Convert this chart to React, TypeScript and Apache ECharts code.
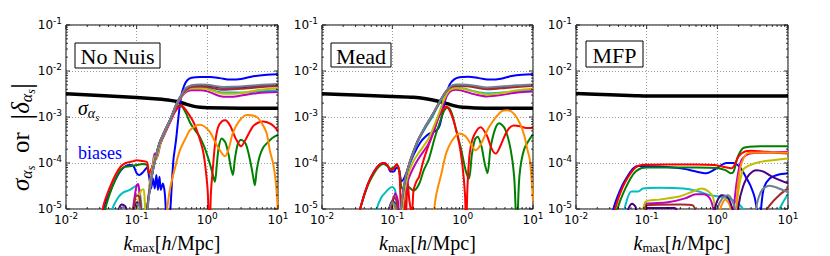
import React, { useEffect, useRef } from "react";
import * as echarts from "echarts";

type P = [number, number][];

// ---------- Panel 1: No Nuis ----------
const NN_SIGMA: P = [[0.01,3.2e-3],[0.03,2.95e-3],[0.1,2.65e-3],[0.2,2.45e-3],[0.3,2.3e-3],[0.4,2.12e-3],[0.5,1.9e-3],[0.65,1.7e-3],[0.8,1.62e-3],[1,1.58e-3],[3,1.55e-3],[10,1.55e-3]];
const NN_BLUE: P = [[0.031,6e-6],[0.035,1.2e-5],[0.04,2e-5],[0.05,4.3e-5],[0.06,7e-5],[0.07,8.6e-5],[0.08,9e-5],[0.09,8.6e-5],[0.1,6e-5],[0.11,5.5e-5],[0.125,6.5e-5],[0.14,8e-5],[0.15,5e-5],[0.16,2.8e-5],[0.17,4.6e-5],[0.18,2.8e-5],[0.19,5.5e-5],[0.2,2.6e-5],[0.21,5e-5],[0.22,2.6e-5],[0.235,3.6e-5],[0.25,2.2e-5],[0.265,6e-6],[0.285,4e-6],[0.3,1e-5],[0.33,1.1e-4],[0.36,3.1e-4],[0.4,1.4e-3],[0.43,3e-3],[0.47,4.8e-3],[0.52,6.3e-3],[0.6,7.1e-3],[0.8,7.4e-3],[1.1,7.4e-3],[1.5,7e-3],[2.1,6.5e-3],[3,6.7e-3],[4.5,7.7e-3],[7,8.3e-3],[10,8.5e-3]];
const NN_GREEN: P = [[0.033,5e-6],[0.037,1.2e-5],[0.045,3e-5],[0.055,6e-5],[0.065,8e-5],[0.08,8.5e-5],[0.1,9e-5],[0.12,9.5e-5],[0.14,9e-5],[0.15,6e-5],[0.17,9e-5],[0.2,2e-4],[0.25,4.5e-4],[0.3,8.5e-4],[0.35,1.4e-3],[0.41,1.8e-3],[0.45,1.6e-3],[0.5,1.2e-3],[0.57,7.5e-4],[0.68,5e-4],[0.78,3.7e-4],[0.9,2.3e-4],[0.98,1.6e-4],[1.1,9e-5],[1.2,5.5e-5],[1.28,3.9e-5],[1.36,9e-5],[1.45,2.2e-4],[1.6,3.4e-4],[1.8,2.8e-4],[2.0,1.5e-4],[2.15,8e-5],[2.3,5.5e-5],[2.45,1.2e-4],[2.7,2.6e-4],[3,3.2e-4],[3.5,2.6e-4],[4.1,1e-4],[4.45,5e-5],[4.7,3.3e-5],[5.0,7e-5],[5.5,1.4e-4],[6.2,2.2e-4],[7,2.7e-4],[8.3,3.5e-4],[10,4.1e-4]];
const NN_RED: P = [[0.031,5e-6],[0.034,1.2e-5],[0.04,2.5e-5],[0.05,5.5e-5],[0.06,8.5e-5],[0.07,1e-4],[0.08,1.05e-4],[0.09,1.1e-4],[0.1,1.15e-4],[0.12,1.1e-4],[0.14,1.05e-4],[0.15,6e-5],[0.17,9e-5],[0.2,2e-4],[0.25,4.5e-4],[0.3,8e-4],[0.35,1.3e-3],[0.42,1.8e-3],[0.5,1.4e-3],[0.63,8e-4],[0.75,4e-4],[0.87,1.8e-4],[0.95,7e-5],[1.02,2e-5],[1.07,1e-6],[1.12,2e-5],[1.2,8e-5],[1.3,3e-4],[1.42,6e-4],[1.6,8e-4],[1.8,8.5e-4],[2.1,6.5e-4],[2.5,3.5e-4],[3.0,2.3e-4],[3.5,3.3e-4],[4.4,6.2e-4],[5.2,7.5e-4],[6.2,8e-4],[8,7e-4],[10,5e-4]];
const NN_ORANGE: P = [[0.25,3e-6],[0.27,1e-5],[0.3,3e-5],[0.35,8e-5],[0.41,1.9e-4],[0.5,3.6e-4],[0.57,5.2e-4],[0.78,6.8e-4],[0.9,6.3e-4],[1.08,4.8e-4],[1.3,2.8e-4],[1.5,1.9e-4],[1.78,1.4e-4],[2.0,2e-4],[2.3,4.5e-4],[2.8,8e-4],[3.6,1.1e-3],[5,1e-3],[6,7e-4],[6.9,4.5e-4],[7.7,1.8e-4],[8.5,1e-4],[9.3,4e-5],[10,8e-6]];
const NN_CYAN: P = [[0.04,5e-6],[0.045,1e-5],[0.055,1.8e-5],[0.065,2.3e-5],[0.08,2.6e-5],[0.095,3.1e-5],[0.105,3.2e-5],[0.115,1.5e-5],[0.122,5e-6],[0.135,6e-6],[0.145,1.5e-5],[0.16,4e-5],[0.17,7e-5],[0.19,1.5e-4],[0.21,2.7e-4],[0.25,5e-4],[0.3,9e-4],[0.37,1.9e-3],[0.45,3.2e-3],[0.52,4e-3],[0.6,4.3e-3],[0.8,4.3e-3],[1,4.1e-3],[1.7,3.4e-3],[3,3.4e-3],[5,3.6e-3],[10,3.8e-3]];
const NN_MAGENTA: P = [[0.085,5e-6],[0.09,1.2e-5],[0.1,3.3e-5],[0.105,3.5e-5],[0.11,2e-5],[0.12,6e-6],[0.135,5e-6],[0.145,1.5e-5],[0.155,4e-5],[0.17,1e-4],[0.18,1.6e-4],[0.19,1.3e-4],[0.2,1.5e-4],[0.22,2.8e-4],[0.25,4.3e-4],[0.3,8e-4],[0.37,1.8e-3],[0.45,3e-3],[0.52,3.6e-3],[0.6,3.8e-3],[0.8,3.8e-3],[1,3.6e-3],[1.7,2.75e-3],[2.5,2.8e-3],[5,3.3e-3],[10,3.5e-3]];
const NN_YELLOW: P = [[0.095,5e-6],[0.105,1.5e-5],[0.115,2.5e-5],[0.125,2.7e-5],[0.13,1.5e-5],[0.135,8e-6],[0.145,1.5e-5],[0.155,4e-5],[0.17,9e-5],[0.18,1.4e-4],[0.19,1.2e-4],[0.2,1.6e-4],[0.22,2.9e-4],[0.25,4.6e-4],[0.3,8.5e-4],[0.37,1.9e-3],[0.45,3.1e-3],[0.52,3.9e-3],[0.6,4.2e-3],[0.8,4.2e-3],[1,4e-3],[1.7,3.2e-3],[2.5,3.2e-3],[5,3.8e-3],[10,4.2e-3]];
const NN_PURPLE: P = [[0.05,4e-6],[0.056,1e-5],[0.062,1.25e-5],[0.07,1.1e-5],[0.078,4e-6],[0.09,8e-6],[0.1,1.4e-5],[0.11,1.2e-5],[0.12,5e-6],[0.135,6e-6],[0.145,1.5e-5],[0.16,4e-5],[0.17,7e-5],[0.19,1.5e-4],[0.21,2.7e-4],[0.25,5e-4],[0.3,9e-4],[0.37,2e-3],[0.45,3.3e-3],[0.52,4.2e-3],[0.6,4.8e-3],[0.8,4.9e-3],[1,4.8e-3],[1.7,4.3e-3],[3,4.4e-3],[6,4.8e-3],[10,5e-3]];
const NN_BROWN: P = [[0.08,5e-6],[0.09,1e-5],[0.1,2e-5],[0.11,1.8e-5],[0.12,6e-6],[0.135,6e-6],[0.145,1.5e-5],[0.16,4e-5],[0.17,7e-5],[0.19,1.5e-4],[0.21,2.7e-4],[0.25,5e-4],[0.3,9e-4],[0.37,2e-3],[0.45,3.3e-3],[0.52,4.1e-3],[0.6,4.5e-3],[0.8,4.6e-3],[1,4.5e-3],[1.7,3.9e-3],[3,4.1e-3],[6,4.5e-3],[10,4.7e-3]];
const NN_GRAY: P = [[0.05,4e-6],[0.058,1e-5],[0.065,1.1e-5],[0.072,8e-6],[0.08,4e-6],[0.095,9e-6],[0.105,1.3e-5],[0.115,8e-6],[0.125,5e-6],[0.14,8e-6],[0.15,2e-5],[0.16,4e-5],[0.17,7e-5],[0.19,1.5e-4],[0.21,2.7e-4],[0.25,5e-4],[0.3,9e-4],[0.37,2e-3],[0.45,3.4e-3],[0.5,4.3e-3],[0.6,4.9e-3],[0.8,5.1e-3],[1,5e-3],[1.7,4.5e-3],[3,4.6e-3],[6,5e-3],[10,5.2e-3]];

// ---------- Panel 2: Mead ----------
const ME_SIGMA: P = [[0.01,3.2e-3],[0.03,3.0e-3],[0.1,2.8e-3],[0.2,2.7e-3],[0.3,2.5e-3],[0.45,2.2e-3],[0.6,1.95e-3],[0.8,1.72e-3],[1,1.62e-3],[1.5,1.57e-3],[3,1.55e-3],[10,1.55e-3]];
const ME_BLUE: P = [[0.032,5e-6],[0.036,1.2e-5],[0.045,3.5e-5],[0.055,6.5e-5],[0.065,9e-5],[0.075,1e-4],[0.085,9e-5],[0.095,6.5e-5],[0.105,6.5e-5],[0.115,8e-5],[0.125,7e-5],[0.135,4e-5],[0.15,5e-5],[0.17,8e-5],[0.2,1.5e-4],[0.25,2.8e-4],[0.3,3.8e-4],[0.35,4.5e-4],[0.42,5e-4],[0.47,6.5e-4],[0.52,1.3e-3],[0.58,2.8e-3],[0.65,5e-3],[0.75,6.5e-3],[0.9,7.3e-3],[1.2,7.5e-3],[1.7,7e-3],[2.5,6.5e-3],[3.5,6.8e-3],[5,7.8e-3],[7,8.3e-3],[10,8.5e-3]];
const ME_GREEN: P = [[0.032,5e-6],[0.036,1.2e-5],[0.045,3.3e-5],[0.055,6e-5],[0.065,8.5e-5],[0.075,9.5e-5],[0.085,8.5e-5],[0.095,7.5e-5],[0.105,8e-5],[0.115,9e-5],[0.125,7e-5],[0.135,3e-5],[0.15,2.5e-5],[0.17,3e-5],[0.2,2.5e-5],[0.24,3.5e-5],[0.28,7e-5],[0.33,1.2e-4],[0.4,3.5e-4],[0.47,7.4e-4],[0.55,1.4e-3],[0.62,1.6e-3],[0.7,1.2e-3],[0.8,5.5e-4],[0.95,2e-4],[1.1,7e-5],[1.23,4.6e-5],[1.35,1.5e-4],[1.5,3.3e-4],[1.63,3.7e-4],[1.85,2.3e-4],[2.05,1e-4],[2.25,6e-5],[2.5,2.2e-4],[2.9,5.5e-4],[3.3,7.3e-4],[4,5.5e-4],[4.8,2e-4],[5.4,5e-5],[5.9,3e-6],[6.4,5e-5],[7.5,2e-4],[10,4.2e-4]];
const ME_RED: P = [[0.032,5e-6],[0.036,1.2e-5],[0.045,3.5e-5],[0.055,6.5e-5],[0.065,9e-5],[0.075,1e-4],[0.085,9e-5],[0.095,7e-5],[0.105,7.5e-5],[0.115,9.5e-5],[0.125,7e-5],[0.13,2e-5],[0.135,5e-6],[0.145,3e-5],[0.155,6e-6],[0.165,4e-5],[0.175,1.5e-5],[0.19,8e-6],[0.2,2.5e-5],[0.22,4e-5],[0.24,5e-5],[0.28,1.2e-4],[0.33,2.5e-4],[0.4,5.5e-4],[0.45,9.5e-4],[0.52,1.4e-3],[0.58,1.7e-3],[0.65,1.4e-3],[0.75,8e-4],[0.89,2.7e-4],[1.0,8e-5],[1.08,2e-5],[1.12,4e-6],[1.17,3e-5],[1.25,1.5e-4],[1.37,3.2e-4],[1.6,5.2e-4],[1.8,6e-4],[2.2,4e-4],[2.6,2e-4],[2.96,1.6e-4],[3.5,2.5e-4],[4.3,5e-4],[5.3,6.5e-4],[6.5,6.3e-4],[8,5.8e-4],[10,5.8e-4]];
const ME_ORANGE: P = [[0.38,6e-6],[0.42,2e-5],[0.5,6e-5],[0.58,1.6e-4],[0.7,3e-4],[0.89,4.4e-4],[1.1,3.8e-4],[1.3,2.6e-4],[1.52,1.9e-4],[1.8,2.5e-4],[2.4,6.2e-4],[3.5,1.3e-3],[4.3,1.4e-3],[5.3,1.2e-3],[6.5,7.3e-4],[7.5,4e-4],[8.3,2e-4],[9,1.2e-4],[9.6,4e-5],[10,1.5e-5]];
const ME_CYAN: P = [[0.055,4e-6],[0.06,1e-5],[0.07,1.8e-5],[0.08,2.3e-5],[0.09,2.8e-5],[0.1,3e-5],[0.11,2.5e-5],[0.118,8e-6],[0.125,4e-6],[0.135,8e-6],[0.145,2e-5],[0.16,5e-5],[0.175,9e-5],[0.2,1.7e-4],[0.24,3.3e-4],[0.3,6e-4],[0.37,1e-3],[0.45,1.8e-3],[0.55,3e-3],[0.65,4e-3],[0.8,4.3e-3],[1,4.2e-3],[1.5,3.6e-3],[2.2,3.3e-3],[3.5,3.4e-3],[6,3.6e-3],[10,3.8e-3]];
const ME_MAGENTA: P = [[0.09,4e-6],[0.1,1.2e-5],[0.11,2.2e-5],[0.12,1.5e-5],[0.125,5e-6],[0.135,6e-6],[0.15,2e-5],[0.17,4.5e-5],[0.2,8e-5],[0.24,1.3e-4],[0.33,2.7e-4],[0.45,9.5e-4],[0.55,2.2e-3],[0.65,3.5e-3],[0.8,3.9e-3],[1,3.7e-3],[1.5,3.1e-3],[2.2,2.8e-3],[3.5,3e-3],[6,3.4e-3],[10,3.6e-3]];
const ME_YELLOW: P = [[0.085,4e-6],[0.09,1e-5],[0.1,1.3e-5],[0.11,9e-6],[0.12,4e-6],[0.135,7e-6],[0.15,2.5e-5],[0.17,6e-5],[0.2,1.1e-4],[0.24,1.7e-4],[0.33,3.5e-4],[0.45,1.1e-3],[0.55,2.5e-3],[0.65,3.8e-3],[0.8,4.2e-3],[1,4.1e-3],[1.5,3.5e-3],[2.2,3.1e-3],[3.5,3.3e-3],[6,3.8e-3],[10,4.1e-3]];
const ME_PURPLE: P = [[0.08,4e-6],[0.09,1e-5],[0.1,1.5e-5],[0.11,1.3e-5],[0.12,5e-6],[0.13,8e-6],[0.14,2e-5],[0.155,5e-5],[0.175,1e-4],[0.2,1.8e-4],[0.24,3.5e-4],[0.3,6.5e-4],[0.37,1.1e-3],[0.45,1.9e-3],[0.55,3.2e-3],[0.65,4.4e-3],[0.8,4.9e-3],[1,4.9e-3],[1.5,4.6e-3],[2.2,4.2e-3],[3.5,4.4e-3],[6,4.7e-3],[10,4.9e-3]];
const ME_BROWN: P = [[0.085,4e-6],[0.095,1e-5],[0.105,1.8e-5],[0.115,1.5e-5],[0.122,5e-6],[0.13,8e-6],[0.14,2e-5],[0.155,5e-5],[0.175,1e-4],[0.2,1.8e-4],[0.24,3.5e-4],[0.3,6.5e-4],[0.37,1.1e-3],[0.45,1.9e-3],[0.55,3.2e-3],[0.65,4.3e-3],[0.8,4.7e-3],[1,4.7e-3],[1.5,4.4e-3],[2.2,4e-3],[3.5,4.2e-3],[6,4.5e-3],[10,4.7e-3]];
const ME_GRAY: P = [[0.08,4e-6],[0.09,9e-6],[0.1,1.4e-5],[0.11,1.2e-5],[0.12,5e-6],[0.13,8e-6],[0.14,2e-5],[0.155,5e-5],[0.175,1e-4],[0.2,1.8e-4],[0.24,3.5e-4],[0.3,6.5e-4],[0.37,1.1e-3],[0.45,1.9e-3],[0.55,3.2e-3],[0.65,4.5e-3],[0.8,5.1e-3],[1,5.1e-3],[1.5,4.8e-3],[2.2,4.4e-3],[3.5,4.6e-3],[6,4.9e-3],[10,5.1e-3]];

// ---------- Panel 3: MFP ----------
const MF_SIGMA: P = [[0.01,3.25e-3],[0.03,3.05e-3],[0.07,2.9e-3],[0.1,2.85e-3],[1,2.85e-3],[10,2.85e-3]];
const MF_BLUE: P = [[0.031,5e-6],[0.035,1.2e-5],[0.045,3.2e-5],[0.055,5.5e-5],[0.065,7.7e-5],[0.076,8.6e-5],[0.09,8.6e-5],[0.15,8.4e-5],[0.32,7.6e-5],[0.5,6.5e-5],[0.7,6e-5],[0.95,7.5e-5],[1.35,1e-4],[1.67,1e-4],[2.1,8e-5],[2.6,4.6e-5],[3.0,3e-5],[3.4,1.7e-5],[3.75,6e-6],[3.95,2e-6],[4.2,1.2e-5],[4.6,3e-5],[5.5,4.6e-5],[7,5.5e-5],[10,6e-5]];
const MF_GREEN: P = [[0.035,5e-6],[0.04,1.2e-5],[0.05,2.8e-5],[0.06,4.8e-5],[0.07,6.5e-5],[0.085,7.8e-5],[0.1,8e-5],[0.5,8e-5],[1.0,7.8e-5],[1.3,7e-5],[1.55,6e-5],[1.7,6.5e-5],[1.95,1.37e-4],[2.3,2.1e-4],[2.8,2.25e-4],[4,2.3e-4],[10,2.3e-4]];
const MF_RED: P = [[0.033,5e-6],[0.037,1.2e-5],[0.045,2.8e-5],[0.055,5e-5],[0.065,7.2e-5],[0.075,8.6e-5],[0.09,9.2e-5],[0.2,9.3e-5],[0.5,9.3e-5],[0.9,9e-5],[1.2,8.3e-5],[1.6,7.7e-5],[2.0,1.4e-4],[2.5,1.8e-4],[3,1.85e-4],[4,1.8e-4],[6,1.7e-4],[10,1.6e-4]];
const MF_ORANGE: P = [[1.0,3e-6],[1.1,1e-5],[1.3,1.6e-5],[1.5,1.2e-5],[1.65,5e-6],[1.77,4e-6],[1.95,3.3e-5],[2.2,1e-4],[2.6,1.6e-4],[3,1.68e-4],[4,1.7e-4],[10,1.68e-4]];
const MF_CYAN: P = [[0.045,4e-6],[0.05,1.2e-5],[0.061,2.4e-5],[0.076,2.4e-5],[0.089,2.8e-5],[0.15,2.9e-5],[0.33,2.8e-5],[0.5,2.5e-5],[0.79,2e-5],[1.2,1.8e-5],[1.6,1.6e-5],[2.0,1.3e-5],[2.5,8e-6],[2.9,3e-6],[6.5,2e-6],[7.2,8e-6],[8.5,1.4e-5],[10,2.1e-5]];
const MF_MAGENTA: P = [[0.09,4e-6],[0.095,1.2e-5],[0.1,1.3e-5],[0.2,1.4e-5],[0.35,1.7e-5],[0.5,2.1e-5],[0.65,2.1e-5],[0.8,1.6e-5],[0.9,8e-6],[0.95,3e-6],[1.6,3e-6],[1.75,1.5e-5],[1.9,4.3e-5],[2.2,1.17e-4],[2.9,1.6e-4],[5,1.68e-4],[10,1.75e-4]];
const MF_YELLOW: P = [[0.088,4e-6],[0.095,1.4e-5],[0.15,1.6e-5],[0.3,1.9e-5],[0.45,2.4e-5],[0.6,2.8e-5],[0.75,2.4e-5],[0.87,1.8e-5],[0.94,8e-6],[1.0,3e-6],[1.8,4e-6],[1.95,2e-5],[2.3,7e-5],[2.9,9e-5],[4,1.05e-4],[6,1.15e-4],[10,1.26e-4]];
const MF_PURPLE: P = [[0.05,3e-6],[0.055,1e-5],[0.062,1.3e-5],[0.07,1.1e-5],[0.075,3e-6],[0.095,3e-6],[0.1,1.05e-5],[0.25,1.05e-5],[0.3,3e-6],[0.85,3e-6],[0.95,1.2e-5],[1.15,2e-5],[1.4,1.8e-5],[1.7,8e-6],[1.85,3e-6],[2.0,1.2e-5],[2.3,3e-5],[2.8,5.5e-5],[3.6,7e-5],[4.5,6.5e-5],[6,5e-5],[10,3.6e-5]];
const MF_BROWN: P = [[0.09,3e-6],[0.1,1.2e-5],[0.3,1.25e-5],[0.45,1.2e-5],[0.52,5e-6],[0.6,2e-6],[3.6,2e-6],[4.2,6e-6],[5.5,1.2e-5],[7.5,2e-5],[10,2.8e-5]];
const MF_GRAY: P = [[0.9,3e-6],[1.0,1e-5],[1.2,1.8e-5],[1.4,2e-5],[1.6,1.6e-5],[1.85,8e-6],[2.0,3e-6],[3.2,3e-6],[3.6,1.2e-5],[4.3,2.6e-5],[5.5,3.2e-5],[7,2.9e-5],[10,2.3e-5]];

// ---------- axes / ticks ----------
const X_MIN = 0.01, X_MAX = 10, Y_MIN = 1e-5, Y_MAX = 0.1;
const X_MAJOR = [0.01, 0.1, 1, 10];
const Y_MAJOR = [1e-5, 1e-4, 1e-3, 1e-2, 1e-1];
const X_DECADES = [0.01, 0.1, 1];
const Y_DECADES = [1e-5, 1e-4, 1e-3, 1e-2];
const MULTS = [2, 3, 4, 5, 6, 7, 8, 9];

const PANEL_TITLES = ["No Nuis", "Mead", "MFP"];

const COLORS: Record<string, string> = {
  sigma: "#000000", blue: "#0000ff", green: "#008000", red: "#ff0000", cyan: "#00bfbf",
  magenta: "#bf00bf", yellow: "#bfbf00", orange: "#ff8c00", purple: "#4b0082",
  brown: "#a52a2a", gray: "#708090",
};

const PANELS: Record<string, P>[] = [
  { sigma: NN_SIGMA, blue: NN_BLUE, green: NN_GREEN, red: NN_RED, cyan: NN_CYAN, magenta: NN_MAGENTA, yellow: NN_YELLOW, orange: NN_ORANGE, purple: NN_PURPLE, brown: NN_BROWN, gray: NN_GRAY },
  { sigma: ME_SIGMA, blue: ME_BLUE, green: ME_GREEN, red: ME_RED, cyan: ME_CYAN, magenta: ME_MAGENTA, yellow: ME_YELLOW, orange: ME_ORANGE, purple: ME_PURPLE, brown: ME_BROWN, gray: ME_GRAY },
  { sigma: MF_SIGMA, blue: MF_BLUE, green: MF_GREEN, red: MF_RED, cyan: MF_CYAN, magenta: MF_MAGENTA, yellow: MF_YELLOW, orange: MF_ORANGE, purple: MF_PURPLE, brown: MF_BROWN, gray: MF_GRAY },
];
const ORDER = ["sigma", "blue", "green", "red", "cyan", "magenta", "yellow", "orange", "purple", "brown", "gray"];

const GRIDS = [
  { left: 66, width: 212 },
  { left: 322, width: 211 },
  { left: 576, width: 212 },
];
const TOP = 25, HEIGHT = 184;
const BOXES = [
  { x: 75, y: 43, w: 85, h: 25 },
  { x: 331, y: 43, w: 60, h: 24 },
  { x: 586, y: 41, w: 57, h: 26 },
];

const SERIF = "Liberation Serif";
const SANS = "DejaVu Sans";

const powLabel = (v: number) => `{b|10}{s|${Math.round(Math.log10(v))}}`;
const labelRich = {
  b: { fontFamily: SANS, fontSize: 12, color: "#000", verticalAlign: "middle" },
  s: { fontFamily: SANS, fontSize: 9, color: "#000", padding: [0, 0, 9, 0], verticalAlign: "middle" },
};
const nameRich = {
  it: { fontFamily: SERIF, fontStyle: "italic", fontSize: 20, color: "#000", verticalAlign: "middle" },
  rm: { fontFamily: SERIF, fontSize: 20, color: "#000", verticalAlign: "middle" },
  sub: { fontFamily: SERIF, fontSize: 13, color: "#000", padding: [10, 0, 0, 0], verticalAlign: "middle" },
  sub2: { fontFamily: SERIF, fontStyle: "italic", fontSize: 10, color: "#000", padding: [18, 0, 0, 0], verticalAlign: "middle" },
  subi: { fontFamily: SERIF, fontStyle: "italic", fontSize: 14, color: "#000", padding: [10, 0, 0, 0], verticalAlign: "middle" },
};
const yTitleRich = {
  it: { fontFamily: SERIF, fontStyle: "italic", fontSize: 25, color: "#000", verticalAlign: "middle" },
  rm: { fontFamily: SERIF, fontSize: 25, color: "#000", verticalAlign: "middle" },
  subi: { fontFamily: SERIF, fontStyle: "italic", fontSize: 16, color: "#000", padding: [12, 0, 0, 0], verticalAlign: "middle" },
  sub2: { fontFamily: SERIF, fontStyle: "italic", fontSize: 12, color: "#000", padding: [22, 0, 0, 0], verticalAlign: "middle" },
  bar: { fontFamily: SERIF, fontSize: 30, color: "#000", verticalAlign: "middle" },
};

const TICK_DATA: number[][] = [
  ...X_MAJOR.map((v) => [v, Y_MIN, 0, 1]),
  ...X_DECADES.flatMap((d) => MULTS.map((m) => [m * d, Y_MIN, 0, 0])),
  ...Y_MAJOR.map((v) => [X_MIN, v, 1, 1]),
  ...Y_DECADES.flatMap((d) => MULTS.map((m) => [X_MIN, m * d, 1, 0])),
];

function renderTicks(_params: any, api: any) {
  const kind = api.value(2);
  const len = api.value(3) ? 4 : 2;
  const style = { stroke: "#000", lineWidth: 0.8 };
  if (kind === 0) {
    const v = api.value(0);
    const a = api.coord([v, Y_MIN]);
    const b = api.coord([v, Y_MAX]);
    return {
      type: "group",
      children: [
        { type: "line", shape: { x1: a[0], y1: a[1], x2: a[0], y2: a[1] - len }, style },
        { type: "line", shape: { x1: b[0], y1: b[1], x2: b[0], y2: b[1] + len }, style },
      ],
    };
  }
  const v = api.value(1);
  const a = api.coord([X_MIN, v]);
  const b = api.coord([X_MAX, v]);
  return {
    type: "group",
    children: [
      { type: "line", shape: { x1: a[0], y1: a[1], x2: a[0] + len, y2: a[1] }, style },
      { type: "line", shape: { x1: b[0], y1: b[1], x2: b[0] - len, y2: b[1] }, style },
    ],
  };
}

function buildOption() {
  const grid = GRIDS.map((g) => ({
    left: g.left, top: TOP, width: g.width, height: HEIGHT,
    show: true, borderColor: "#000", borderWidth: 1, backgroundColor: "rgba(0,0,0,0)",
    containLabel: false, outerBoundsMode: "none",
  }));
  const split = { show: true, lineStyle: { color: "#9a9a9a", type: [1, 2], width: 1 } };
  const xAxis = GRIDS.map((_, i) => ({
    type: "log", logBase: 10, gridIndex: i, min: X_MIN, max: X_MAX,
    axisLine: { show: false }, axisTick: { show: false }, splitLine: split,
    axisLabel: { formatter: powLabel, rich: labelRich, margin: 2 },
    name: "{it|k}{sub|max}{rm|[}{it|h}{rm|/Mpc]}",
    nameLocation: "middle", nameGap: 22,
    nameTextStyle: { rich: nameRich },
  }));
  const yAxis = GRIDS.map((_, i) => ({
    type: "log", logBase: 10, gridIndex: i, min: Y_MIN, max: Y_MAX,
    axisLine: { show: false }, axisTick: { show: false }, splitLine: split,
    axisLabel: { formatter: powLabel, rich: labelRich, margin: 4 },
  }));
  const series: any[] = [];
  PANELS.forEach((panel, i) => {
    ORDER.forEach((key) => {
      series.push({
        type: "line", name: `${PANEL_TITLES[i]} ${key}`, xAxisIndex: i, yAxisIndex: i,
        data: panel[key], symbol: "none", smooth: 0.3, clip: true, silent: true,
        lineStyle: { color: COLORS[key], width: key === "sigma" ? 3.5 : 2 },
        itemStyle: { color: COLORS[key] },
      });
    });
    series.push({
      type: "custom", xAxisIndex: i, yAxisIndex: i, silent: true, clip: false, z: 5,
      data: TICK_DATA, renderItem: renderTicks,
    });
  });

  const graphic: any[] = [];
  BOXES.forEach((b, i) => {
    graphic.push({
      type: "rect", shape: { x: b.x, y: b.y, width: b.w, height: b.h }, z: 100,
      style: { fill: "#fff", stroke: "#000", lineWidth: 1 },
    });
    graphic.push({
      type: "text", x: b.x + b.w / 2, y: b.y + b.h / 2 + 1, z: 101,
      style: { text: PANEL_TITLES[i], fontFamily: SERIF, fontSize: 22, fill: "#000", align: "center", verticalAlign: "middle" },
    });
  });
  graphic.push({
    type: "text", x: 78, y: 108, z: 101,
    style: { text: "{it|σ}{subi|α}{sub2|s}", rich: nameRich, align: "left", verticalAlign: "middle" },
  });
  graphic.push({
    type: "text", x: 78, y: 153, z: 101,
    style: { text: "biases", fontFamily: SERIF, fontSize: 18, fill: "#0000ff", align: "left", verticalAlign: "middle" },
  });
  graphic.push({
    type: "text", x: 20, y: 137, z: 101, rotation: Math.PI / 2,
    style: {
      text: "{it|σ}{subi|α}{sub2|s}{rm|  or  }{bar||}{it|δ}{subi|α}{sub2|s}{bar||}",
      rich: yTitleRich, align: "center", verticalAlign: "middle",
    },
  });

  return { animation: false, backgroundColor: "#fff", grid, xAxis, yAxis, series, graphic };
}

export default function App() {
  const ref = useRef<HTMLDivElement>(null);
  useEffect(() => {
    if (!ref.current) return;
    const chart = echarts.init(ref.current, undefined, { renderer: "svg" });
    chart.setOption(buildOption() as any);
    return () => chart.dispose();
  }, []);
  return <div ref={ref} style={{ position: "fixed", left: 0, top: 0, width: 830, height: 256 }} />;
}
